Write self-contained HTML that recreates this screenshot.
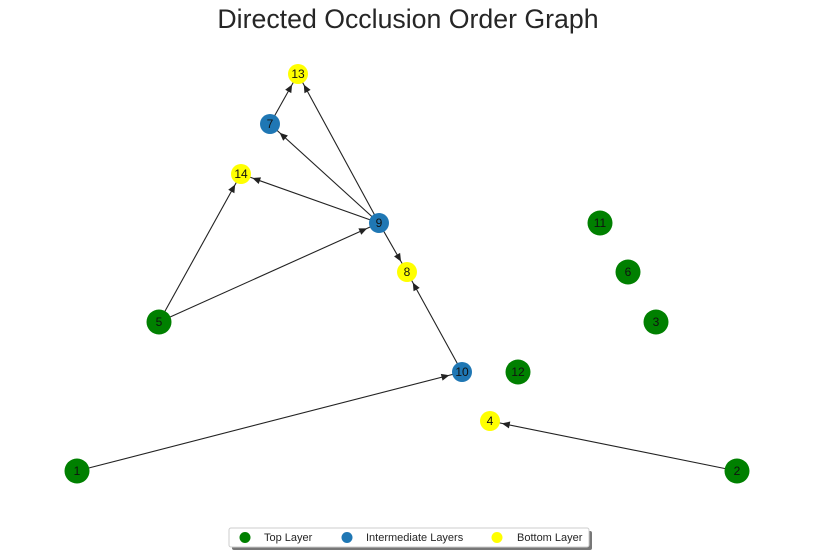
<!DOCTYPE html>
<html><head><meta charset="utf-8"><style>
html,body{margin:0;padding:0;background:#fff;}
svg{display:block;font-family:"Liberation Sans",sans-serif;}
</style></head><body>
<svg width="816" height="555" viewBox="0 0 816 555" xmlns="http://www.w3.org/2000/svg">
<defs>
<marker id="a10" markerUnits="userSpaceOnUse" markerWidth="9" markerHeight="7" refX="21" refY="3.5" orient="auto" overflow="visible" style="overflow:visible"><path d="M0,0 L8,3.5 L0,7 Z" fill="#222"/></marker>
<marker id="a9" markerUnits="userSpaceOnUse" markerWidth="9" markerHeight="7" refX="20" refY="3.5" orient="auto" overflow="visible" style="overflow:visible"><path d="M0,0 L8,3.5 L0,7 Z" fill="#222"/></marker>
<filter id="sh" x="-5%" y="-30%" width="110%" height="160%"><feOffset dx="3" dy="3"/></filter>
</defs>
<text x="408" y="28" text-anchor="middle" font-size="26.7" fill="#262626">Directed Occlusion Order Graph</text>
<g stroke="#222" stroke-width="1.1" fill="none">
<line x1="270" y1="124" x2="298" y2="74" marker-end="url(#a9)"/>
<line x1="379" y1="223" x2="270" y2="124" marker-end="url(#a10)"/>
<line x1="379" y1="223" x2="298" y2="74" marker-end="url(#a9)"/>
<line x1="379" y1="223" x2="241" y2="174" marker-end="url(#a9)"/>
<line x1="379" y1="223" x2="407" y2="272" marker-end="url(#a9)"/>
<line x1="159" y1="322" x2="241" y2="174" marker-end="url(#a9)"/>
<line x1="159" y1="322" x2="379" y2="223" marker-end="url(#a10)"/>
<line x1="462" y1="372" x2="407" y2="272" marker-end="url(#a9)"/>
<line x1="77" y1="471" x2="462" y2="372" marker-end="url(#a10)"/>
<line x1="737" y1="471" x2="490" y2="421" marker-end="url(#a9)"/>
</g>
<g font-size="12" fill="#111" text-anchor="middle">
<circle cx="298" cy="74" r="10" fill="#ffff00"/><text x="298" y="78">13</text>
<circle cx="270" cy="124" r="10" fill="#1f77b4"/><text x="270" y="128">7</text>
<circle cx="241" cy="174" r="10" fill="#ffff00"/><text x="241" y="178">14</text>
<circle cx="379" cy="223" r="10" fill="#1f77b4"/><text x="379" y="227">9</text>
<circle cx="407" cy="272" r="10" fill="#ffff00"/><text x="407" y="276">8</text>
<circle cx="159" cy="322" r="12.5" fill="#008000"/><text x="159" y="326">5</text>
<circle cx="462" cy="372" r="10" fill="#1f77b4"/><text x="462" y="376">10</text>
<circle cx="518" cy="372" r="12.5" fill="#008000"/><text x="518" y="376">12</text>
<circle cx="490" cy="421" r="10" fill="#ffff00"/><text x="490" y="425">4</text>
<circle cx="77" cy="471" r="12.5" fill="#008000"/><text x="77" y="475">1</text>
<circle cx="737" cy="471" r="12.5" fill="#008000"/><text x="737" y="475">2</text>
<circle cx="600" cy="223" r="12.5" fill="#008000"/><text x="600" y="227">11</text>
<circle cx="628" cy="272" r="12.5" fill="#008000"/><text x="628" y="276">6</text>
<circle cx="656" cy="322" r="12.5" fill="#008000"/><text x="656" y="326">3</text>
</g>
<rect x="229" y="528" width="360" height="19" rx="2" fill="#777" filter="url(#sh)"/>
<rect x="229" y="528" width="360" height="19" rx="2" fill="#fff" stroke="#ccc" stroke-width="1"/>
<g font-size="11" fill="#262626">
<circle cx="245" cy="537.5" r="5.5" fill="#008000"/><text x="264" y="541">Top Layer</text>
<circle cx="347" cy="537.5" r="5.5" fill="#1f77b4"/><text x="366" y="541">Intermediate Layers</text>
<circle cx="497" cy="537.5" r="5.5" fill="#ffff00"/><text x="517" y="541">Bottom Layer</text>
</g>
</svg>
</body></html>
